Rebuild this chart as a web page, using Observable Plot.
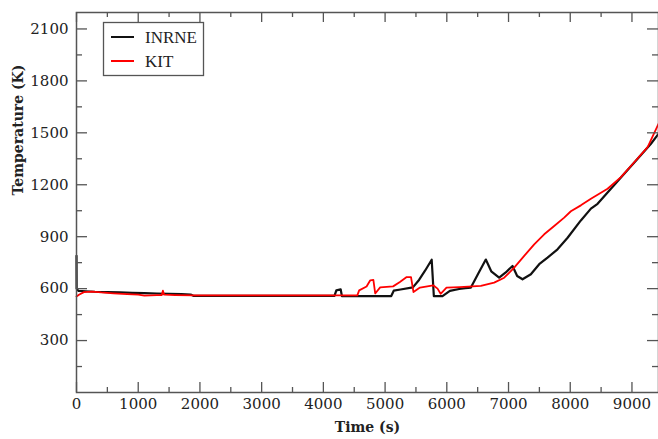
<!DOCTYPE html>
<html>
<head>
<meta charset="utf-8">
<script src="https://cdn.jsdelivr.net/npm/d3@7"></script>
<script src="https://cdn.jsdelivr.net/npm/@observablehq/plot@0.6"></script>
<style>
  html, body { margin: 0; padding: 0; background: #fff; }
  #chart { width: 658px; height: 439px; }
</style>
</head>
<body>
<div id="chart"></div>
<script>
// ---- Data ----
const seriesNames = ["INRNE", "KIT"];
const seriesColors = ["#111111", "#ff0000"];

const inrneTime = [0, 2, 30, 150, 300, 500, 700, 900, 1100, 1300, 1500, 1700, 1850, 1900, 4180, 4210, 4280, 4300, 5100, 5140, 5250, 5450, 5550, 5650, 5755, 5790, 5930, 6050, 6200, 6300, 6390, 6510, 6632, 6720, 6848, 6950, 7065, 7140, 7227, 7362, 7497, 7632, 7794, 7957, 8172, 8335, 8443, 8659, 8875, 9092, 9308, 9430];
const inrneTemp = [790, 600, 587, 585, 582, 580, 578, 576, 574, 572, 570, 568, 566, 558, 558, 590, 596, 557, 557, 588, 595, 607, 650, 705, 767, 557, 557, 587, 598, 603, 606, 688, 768, 700, 663, 692, 731, 673, 654, 683, 741, 779, 827, 894, 994, 1062, 1090, 1177, 1263, 1350, 1437, 1494];

const kitTime = [0, 40, 120, 250, 400, 600, 820, 1000, 1100, 1300, 1380, 1400, 1420, 1600, 1900, 4550, 4580, 4700, 4760, 4810, 4840, 4920, 5130, 5240, 5350, 5420, 5460, 5565, 5780, 5850, 5900, 5995, 6210, 6551, 6767, 6930, 7092, 7254, 7416, 7578, 7740, 7902, 8010, 8172, 8335, 8605, 8821, 9037, 9254, 9430];
const kitTemp = [555, 565, 580, 583, 578, 573, 568, 565, 560, 563, 562, 588, 565, 563, 561, 561, 590, 612, 648, 650, 572, 607, 613, 638, 667, 667, 580, 606, 619, 600, 570, 606, 609, 616, 635, 663, 721, 789, 856, 914, 962, 1010, 1047, 1081, 1119, 1177, 1244, 1330, 1417, 1552];

const xTickValues = [0, 1000, 2000, 3000, 4000, 5000, 6000, 7000, 8000, 9000];
const xMinorValues = [500, 1500, 2500, 3500, 4500, 5500, 6500, 7500, 8500];
const yTickValues = [300, 600, 900, 1200, 1500, 1800, 2100];
const yMinorValues = [150, 450, 750, 1050, 1350, 1650, 1950];
const xDomain = [0, 9430];
const yDomain = [0, 2195];
const xLabel = "Time (s)";
const yLabel = "Temperature (K)";

// ---- Build tables ----
const inrne = inrneTime.map((t, i) => ({t, T: inrneTemp[i]}));
const kit = kitTime.map((t, i) => ({t, T: kitTemp[i]}));

// ---- Layout ----
const W = 658, H = 439;
const ML = 76, MR = 0, MT = 12, MB = 47;
const PW = W - ML - MR, PH = H - MT - MB;
const axisColor = "#555";

const chart = Plot.plot({
  width: W,
  height: H,
  marginLeft: ML,
  marginRight: MR,
  marginTop: MT,
  marginBottom: MB,
  style: {fontFamily: "DejaVu Serif", fontSize: "15px", background: "#fff", color: "#222"},
  x: {domain: xDomain},
  y: {domain: yDomain},
  marks: [
    Plot.line(inrne, {x: "t", y: "T", stroke: seriesColors[0], strokeWidth: 2.2, curve: "linear"}),
    Plot.line(kit, {x: "t", y: "T", stroke: seriesColors[1], strokeWidth: 1.8, curve: "linear"}),
    Plot.frame({stroke: axisColor, strokeWidth: 1.5}),
    // inward ticks: bottom & top
    Plot.tickX(xTickValues, {x: d => d, insetTop: PH - 10, stroke: axisColor, strokeWidth: 1.3}),
    Plot.tickX(xTickValues, {x: d => d, insetBottom: PH - 10, stroke: axisColor, strokeWidth: 1.3}),
    Plot.tickX(xMinorValues, {x: d => d, insetTop: PH - 5, stroke: axisColor, strokeWidth: 1.3}),
    Plot.tickX(xMinorValues, {x: d => d, insetBottom: PH - 5, stroke: axisColor, strokeWidth: 1.3}),
    // inward ticks: left & right
    Plot.tickY(yTickValues, {y: d => d, insetRight: PW - 11, stroke: axisColor, strokeWidth: 1.3}),
    Plot.tickY(yTickValues, {y: d => d, insetLeft: PW - 11, stroke: axisColor, strokeWidth: 1.3}),
    Plot.tickY(yMinorValues, {y: d => d, insetRight: PW - 6, stroke: axisColor, strokeWidth: 1.3}),
    Plot.tickY(yMinorValues, {y: d => d, insetLeft: PW - 6, stroke: axisColor, strokeWidth: 1.3}),
    // tick labels
    Plot.axisX(xTickValues, {tickSize: 0, tickPadding: 6, label: null, tickFormat: d => String(d), fill: "#222"}),
    Plot.axisY(yTickValues, {tickSize: 0, tickPadding: 8, label: null, tickFormat: d => String(d), fill: "#222"}),
    // axis titles
    Plot.text([xLabel], {text: d => d, frameAnchor: "bottom", dy: 39, fontWeight: "bold", fontSize: 14, fill: "#222"}),
    Plot.text([yLabel], {text: d => d, frameAnchor: "left", dx: -58, dy: -7, rotate: -90, fontWeight: "bold", fontSize: 14, fill: "#222"})
  ]
});

document.getElementById("chart").appendChild(chart);

// ---- Legend (inside the plot, upper left) ----
const svg = d3.select(chart);
const lg = svg.append("g").attr("font-family", "Liberation Serif").attr("font-size", 17).attr("text-anchor", "start");
lg.append("rect").attr("x", 103.5).attr("y", 22.5).attr("width", 100).attr("height", 53)
  .attr("fill", "#fff").attr("stroke", axisColor).attr("stroke-width", 1.3);
seriesNames.forEach((name, i) => {
  const cy = 37 + i * 24;
  lg.append("line").attr("x1", 111).attr("x2", 134).attr("y1", cy).attr("y2", cy)
    .attr("stroke", seriesColors[i]).attr("stroke-width", 2);
  lg.append("text").attr("x", 145).attr("y", cy).attr("dy", "0.35em")
    .attr("text-anchor", "start").attr("fill", "#222").text(name);
});
</script>
</body>
</html>
